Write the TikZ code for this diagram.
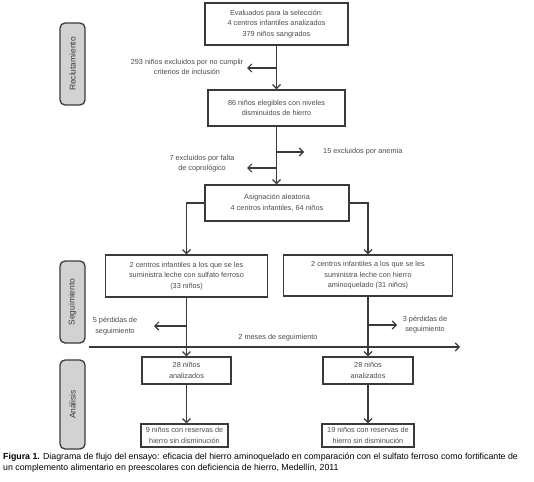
\documentclass[tikz,border=0pt]{standalone}
\usepackage{fontspec}
\setmainfont{Liberation Sans}
\usetikzlibrary{arrows.meta,positioning}
\definecolor{ln}{HTML}{3A3A3A}
\definecolor{tx}{HTML}{4A4A4A}
\definecolor{lab}{HTML}{D2D2D2}
\begin{document}
\begin{tikzpicture}[x=1pt,y=-1pt,
  font=\fontsize{7.3}{10.6}\selectfont,
  every node/.style={text=tx},
  box/.style={draw=ln,line width=1.3pt,align=center,inner sep=1pt},
  stage/.style={draw=ln,line width=1.3pt,fill=lab,rounded corners=5pt,rotate=90,minimum height=25pt,inner sep=0pt,text=ln,font=\fontsize{8.4}{10}\selectfont},
  flow/.style={draw=ln,line width=1.2pt,-{Straight Barb[length=4pt,width=8pt]}},
  note/.style={align=center,inner sep=0pt}]
\useasboundingbox (0,0) rectangle (534,481);
% stage labels
\node[stage,minimum width=82pt] (s1) at (72.5,64) {Reclutamiento};
\node[stage,minimum width=82pt] (s2) at (72.5,302) {Seguimiento};
\node[stage,minimum width=89pt] (s3) at (72.5,404.5) {Análisis};
% boxes
\node[box,minimum width=143pt,minimum height=42pt] (top) at (276.5,24) {Evaluados para la selección:\\4 centros infantiles analizados\\379 niños sangrados};
\node[box,minimum width=137pt,minimum height=36pt] (b2) at (276.5,108) {86 niños elegibles con niveles\\disminuidos de hierro};
\node[box,minimum width=144pt,minimum height=36pt] (b3) at (277,203) {Asignación aleatoria\\4 centros infantiles, 64 niños};
\node[box,minimum width=162pt,minimum height=42pt] (L1) at (186.5,276) {2 centros infantiles a los que se les\\suministra leche con sulfato ferroso\\(33 niños)};
\node[box,minimum width=169pt,minimum height=41pt] (R1) at (368,275.5) {2 centros infantiles a los que se les\\suministra leche con hierro\\aminoquelado (31 niños)};
\node[box,minimum width=89pt,minimum height=27pt] (L2) at (186.5,370.5) {28 niños\\analizados};
\node[box,minimum width=90pt,minimum height=27pt] (R2) at (368,370.5) {28 niños\\analizados};
\node[box,minimum width=87pt,minimum height=23pt] (L3) at (184.5,435.5) {9 niños con reservas de\\hierro sin disminución};
\node[box,minimum width=92pt,minimum height=23pt] (R3) at (368,435.5) {19 niños con reservas de\\hierro sin disminución};
% exclusion notes
\node[note] (n1) at (187,67) {293 niños excluidos por no cumplir\\criterios de inclusión};
\node[note,anchor=west] (n2) at (323,152) {15 excluidos por anemia};
\node[note] (n3) at (202,163.5) {7 excluidos por falta\\de coprológico};
\node[note] (n4) at (115,326) {5 pérdidas de\\seguimiento};
\node[note] (n5) at (425,324.5) {3 pérdidas de\\seguimiento};
\node[note] (n6) at (278,338) {2 meses de seguimiento};
% junction coordinates
\coordinate (j1) at (276.5,68);
\coordinate (e1) at (247,68);
\coordinate (j2) at (276.5,152);
\coordinate (e2) at (304,152);
\coordinate (j3) at (276.5,168);
\coordinate (e3) at (247,168);
\coordinate (j4) at (186.5,326);
\coordinate (e4) at (154,326);
\coordinate (j5) at (368,325);
\coordinate (e5) at (397,325);
\coordinate (t1) at (89,347);
\coordinate (t2) at (460,347);
% connectors
\draw[flow] (top.south) -- (top.south |- b2.north);
\draw[flow] (j1) -- (e1);
\draw[flow] (b2.south) -- (b2.south |- b3.north);
\draw[flow] (j2) -- (e2);
\draw[flow] (j3) -- (e3);
\draw[flow] (b3.west) -| (L1.north);
\draw[flow] (b3.east) -| (R1.north);
\draw[flow] (t1) -- (t2);
\draw[flow] (L1.south) -- (L1.south |- L2.north);
\draw[flow] (j4) -- (e4);
\draw[flow] (R1.south) -- (R1.south |- R2.north);
\draw[flow] (j5) -- (e5);
\draw[flow] (L2.south) -- (L2.south |- L3.north);
\draw[flow] (R2.south) -- (R2.south |- R3.north);
% caption
\node[anchor=north west,align=left,inner sep=0pt,text=black,font=\fontsize{8.8}{11}\selectfont] (cap) at (3,452.5) {\textbf{Figura 1.} Diagrama de flujo del ensayo: eficacia del hierro aminoquelado en comparación con el sulfato ferroso como fortificante de\\un complemento alimentario en preescolares con deficiencia de hierro, Medellín, 2011};
\end{tikzpicture}
\end{document}
